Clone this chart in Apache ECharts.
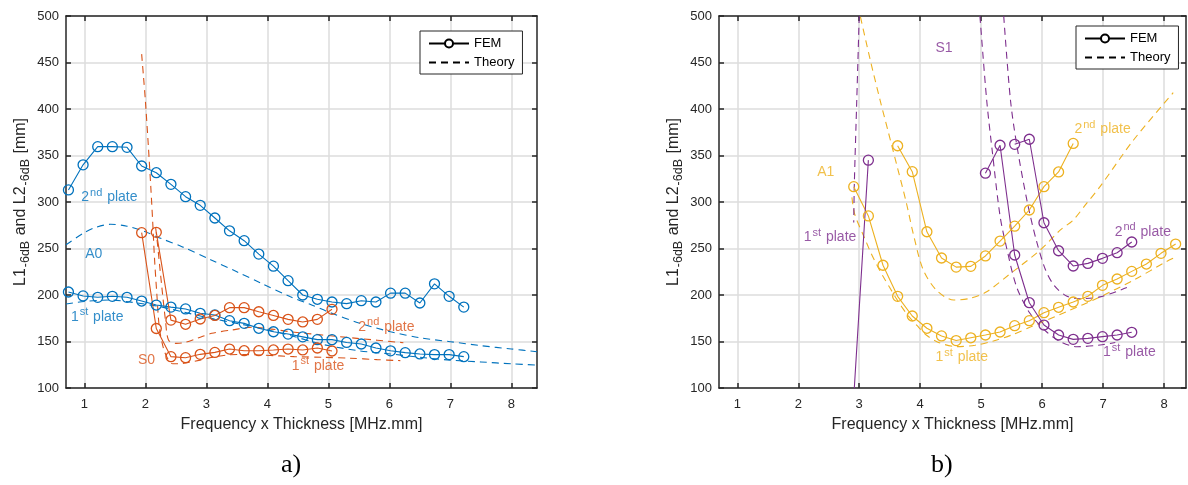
<!DOCTYPE html>
<html><head><meta charset="utf-8">
<script src="https://cdn.jsdelivr.net/npm/echarts@6/dist/echarts.min.js"></script>
<style>html,body{margin:0;padding:0;background:#fff}#c{width:1188px;height:485px}</style>
</head><body><div id="c"></div>
<script>
// ---------------- data ----------------
const xTicks = [1, 2, 3, 4, 5, 6, 7, 8];

// Panel a) A0 (blue) FEM
const a0FemX = [0.74,0.98,1.22,1.46,1.70,1.94,2.18,2.42,2.66,2.90,3.14,3.38,3.62,3.86,4.10,4.34,4.58,4.82,5.06,5.30,5.54,5.78,6.02,6.26,6.50,6.74,6.98,7.22];
const a0FemY2 = [313,340,359.5,359.5,358.8,338.7,331.5,319,305.7,296.4,282.8,269,258.4,244,231,215.4,200,195.4,192.5,190.7,193.9,192.5,202,202,191.4,212,198.6,187];
const a0FemY1 = [203.2,199,197.5,198.6,197.5,193.5,189.2,187,185,180.3,178.5,172.4,169.5,164.2,160.5,158,155,152,152,149,147.3,143,140,138,136.6,135.9,135.9,133.7];
// Panel a) S0 (orange) FEM
const s0FemX1 = [1.94,2.18,2.42,2.66,2.90,3.14,3.38,3.62,3.86,4.10,4.34,4.58,4.82,5.06];
const s0FemY1 = [267,164,133.7,132.6,136.2,138.3,141.9,140.1,140.1,140.9,141.9,140.9,143,139.8];
const s0FemX2 = [2.18,2.42,2.66,2.90,3.14,3.38,3.62,3.86,4.10,4.34,4.58,4.82,5.06];
const s0FemY2 = [267.4,173,168.5,174.2,178,186.4,186.4,182,178,173.8,171,173.8,184.6];
// Panel a) theory
const a0ThX2 = [0.7,1.0,1.2,1.43,1.7,2.0,2.25,2.6,3.07,3.5,3.89,4.38,4.7,5.03,5.5,6.02,6.5,7.0,7.5,8.0,8.42];
const a0ThY2 = [254,267,273,276,274,268,261,252,238,225,213,198,190,181,170,160.5,154,149.8,145.5,142,139];
const a0ThX1 = [0.7,1.0,1.43,1.8,2.25,2.6,3.07,3.5,3.89,4.4,4.9,5.5,6.02,6.5,7.0,7.5,8.0,8.42];
const a0ThY1 = [190.3,193,194.6,192,187.4,182,175,169.5,164.2,156,147,140,136.6,133,130,128,126,124.7];
const s0ThX1 = [1.94,1.97,2.0,2.05,2.09,2.12,2.15,2.19,2.23,2.3,2.38,2.45,2.55,2.7,2.9,3.1,3.34,3.6,3.89,4.2,4.44,4.92,5.36,5.8,6.18];
const s0ThY1 = [459,435,410,360,316,280,240,200,165,142,130,126,126,127.5,130,133,135.5,136,135.5,134.5,133.7,133,132,130.5,129.4];
const s0ThX2 = [2.17,2.19,2.27,2.33,2.38,2.5,2.63,2.85,3.09,3.42,3.75,4.0,4.38,4.9,5.47,6.23];
const s0ThY2 = [272,261,209,173,151.6,148,148.7,153.4,158.8,162.4,165.3,164,160.5,157,153.4,148.7];

// Panel b) A1 (yellow) FEM
const a1FemX1 = [2.91,3.15,3.39,3.63,3.87,4.11,4.35,4.59,4.83,5.07,5.31,5.55,5.79,6.03,6.27,6.51,6.75,6.99,7.23,7.47,7.71,7.95,8.19];
const a1FemY1 = [316.5,285,232,198.6,177.4,164.2,156,151,154,157,160.2,167,172.4,181,186.8,192.5,198.6,210.4,217.2,225.4,233.3,244.8,254.8];
const a1FemX2 = [3.63,3.87,4.11,4.35,4.59,4.83,5.07,5.31,5.55,5.79,6.03,6.27,6.51];
const a1FemY2 = [360.5,332.6,268,239.8,230,230.8,242,258,274,291.4,316.5,332.3,363];
// Panel b) S1 (purple) FEM
const s1FemX1 = [2.91,3.15,3.39,5.07,5.31,5.55,5.79,6.03,6.27,6.51,6.75,6.99,7.23,7.47];
const s1FemY1 = [90,345,null,331,361,243,191.7,167.7,157,152.3,153.4,155.2,157,159.9];
const s1FemX2 = [5.55,5.79,6.03,6.27,6.51,6.75,6.99,7.23,7.47];
const s1FemY2 = [362,367.5,277.7,247.6,231.2,234,239.4,245.5,257];
// Panel b) theory
const a1ThX1 = [2.88,2.93,3.07,3.2,3.3,3.4,3.5,3.6,3.7,3.8,3.95,4.1,4.3,4.6,4.9,5.2,5.5,5.86,6.4,6.95,7.5,8.04,8.2];
const a1ThY1 = [305,286,264,244,231,219,208,197,187,178,167,157,149,144.5,146,150.5,157,167,182,198,216,236,241];
const a1ThX2 = [3.02,3.18,3.34,3.48,3.62,3.77,3.9,4.05,4.27,4.55,4.82,5.09,5.48,5.97,6.3,6.51,6.73,6.95,7.5,8.15];
const a1ThY2 = [499,453,410,374.5,338.7,300,262,227,205,194.6,196.4,203.5,223,248.4,270,280.6,298.6,316.5,366.7,417.5];
const s1ThX1 = [3.0,2.96,2.92,2.91];
const s1ThY1 = [500,410,320,278];
const s1ThX2 = [4.98,5.09,5.18,5.31,5.42,5.58,5.8,6.07,6.3,6.57,6.95,7.2];
const s1ThY2 = [500,410,356,285,250,209,180.3,160.5,149.8,144.4,146.2,149];
const s1ThX3 = [5.37,5.48,5.58,5.75,5.9,6.05,6.2,6.4,6.6,6.95,7.39];
const s1ThY3 = [500,410,363,302,260,228,210,199,196,198,208];

// annotations [x, y, text]
const annBlueA = [[0.95,304.8,'2nd plate'],[1.016,243.8,'A0'],[0.78,176.7,'1st plate']];
const annOrangeA = [[1.88,130,'S0'],[5.49,165.9,'2nd plate'],[4.40,123.9,'1st plate']];
const annPurpleB = [[4.25,465.3,'S1'],[2.09,261.8,'1st plate'],[7.19,268,'2nd plate'],[7.0,138.2,'1st plate']];
const annYellowB = [[2.31,331.7,'A1'],[6.53,378.5,'2nd plate'],[4.25,132.8,'1st plate']];

// ---------------- chart ----------------
const C = {blue:'#0072BD', orange:'#D95319', yellow:'#EDB120', purple:'#7E2F8E'};
const FONT = "'Liberation Sans', Arial, Helvetica, sans-serif";
const INK = '#262626';
const pairs = (xs, ys) => xs.map((x, i) => [x, ys[i]]);

function femSeries(xs, ys, color, g) {
  return {type:'line', xAxisIndex:g*2, yAxisIndex:g*2, data:pairs(xs, ys), symbol:'circle',
    symbolSize:10, showAllSymbol:true, connectNulls:false, clip:true, silent:true, z:3,
    lineStyle:{color:color, width:1.1}, itemStyle:{color:'rgba(255,255,255,0)', borderColor:color, borderWidth:1.3}};
}
function thSeries(xs, ys, color, g) {
  return {type:'line', xAxisIndex:g*2, yAxisIndex:g*2, data:pairs(xs, ys), symbol:'none',
    smooth:0.3, clip:true, silent:true, z:2, lineStyle:{color:color, width:1.1, type:[7,5]}};
}
function toRich(t) {
  const m = t.match(/^(\d)(st|nd|rd|th) (.*)$/);
  return m ? '{n|' + m[1] + '}{p|' + m[2] + '}{n| ' + m[3] + '}' : '{n|' + t + '}';
}
function annSeries(list, color, g) {
  return {type:'scatter', xAxisIndex:g*2, yAxisIndex:g*2, symbolSize:0, silent:true, z:5,
    data:list.map(a => ({value:[a[0], a[1]], label:{formatter:toRich(a[2])}})),
    label:{show:true, position:'right', distance:0, color:color,
      rich:{n:{fontSize:14, color:color, fontFamily:FONT},
            p:{fontSize:11, color:color, fontFamily:FONT, padding:[0,1,9,1]}}}};
}
const yName = '{a|L1}{s|-6dB}{a| and L2}{s|-6dB}{a| [mm]}';
const yRich = {a:{fontSize:16, color:INK, fontFamily:FONT},
               s:{fontSize:12.5, color:INK, fontFamily:FONT, padding:[9,1,0,1]}};

function xAx(g, top) {
  return {type:'value', gridIndex:g, position:top ? 'top' : 'bottom', min:0.7, max:g ? 8.36 : 8.42,
    axisLine:{show:true, onZero:false, lineStyle:{color:INK, width:1.5}},
    axisTick:{show:true, inside:true, length:5, customValues:xTicks, lineStyle:{color:INK, width:1.5}},
    axisLabel:{show:!top, customValues:xTicks, margin:10, color:INK, fontSize:13, fontFamily:FONT},
    splitLine:{show:!top, lineStyle:{color:'#dcdcdc', width:1.5}},
    name:top ? '' : 'Frequency x Thickness [MHz.mm]', nameLocation:'middle', nameGap:29,
    nameTextStyle:{color:INK, fontSize:16, fontFamily:FONT}};
}
function yAx(g, right) {
  return {type:'value', gridIndex:g, position:right ? 'right' : 'left', min:100, max:500, interval:50,
    axisLine:{show:true, onZero:false, lineStyle:{color:INK, width:1.5}},
    axisTick:{show:true, inside:true, length:5, lineStyle:{color:INK, width:1.5}},
    axisLabel:{show:!right, margin:7, color:INK, fontSize:13, fontFamily:FONT},
    splitLine:{show:!right, lineStyle:{color:'#dcdcdc', width:1.5}},
    name:right ? '' : yName, nameLocation:'middle', nameRotate:90, nameGap:34,
    nameTextStyle:{rich:yRich}};
}

const option = {
  animation:false,
  backgroundColor:'#fff',
  grid:[{left:66, top:16, width:471, height:372}, {left:719, top:16, width:467, height:372}],
  xAxis:[xAx(0,false), xAx(0,true), xAx(1,false), xAx(1,true)],
  yAxis:[yAx(0,false), yAx(0,true), yAx(1,false), yAx(1,true)],
  legend:[0,1].map(g => ({data:[{name:'FEM'}, {name:'Theory', itemStyle:{opacity:0}}],
    orient:'vertical', left:g ? 1076 : 420, top:g ? 26 : 31,
    itemWidth:40, itemHeight:10, itemGap:6, padding:[6,8,5,8], borderColor:INK, borderWidth:1,
    backgroundColor:'#fff', selectedMode:false, textStyle:{color:'#000', fontSize:13, fontFamily:FONT}})),
  graphic:[
    {type:'text', left:281, top:452, style:{text:'a)', fontSize:26, fontFamily:"'Liberation Serif', serif", fill:'#000'}},
    {type:'text', left:931, top:452, style:{text:'b)', fontSize:26, fontFamily:"'Liberation Serif', serif", fill:'#000'}}
  ],
  series:[
    {name:'FEM', type:'line', data:[], symbol:'circle', symbolSize:9, lineStyle:{color:'#000', width:1.5}, itemStyle:{color:'#fff', borderColor:'#000', borderWidth:1.2}},
    {name:'Theory', type:'line', data:[], symbol:'none', lineStyle:{color:'#000', width:1, type:[7,5]}, itemStyle:{color:'#000'}},
    thSeries(a0ThX2, a0ThY2, C.blue, 0),
    thSeries(a0ThX1, a0ThY1, C.blue, 0),
    thSeries(s0ThX1, s0ThY1, C.orange, 0),
    thSeries(s0ThX2, s0ThY2, C.orange, 0),
    femSeries(a0FemX, a0FemY2, C.blue, 0),
    femSeries(a0FemX, a0FemY1, C.blue, 0),
    femSeries(s0FemX1, s0FemY1, C.orange, 0),
    femSeries(s0FemX2, s0FemY2, C.orange, 0),
    thSeries(a1ThX1, a1ThY1, C.yellow, 1),
    thSeries(a1ThX2, a1ThY2, C.yellow, 1),
    thSeries(s1ThX1, s1ThY1, C.purple, 1),
    thSeries(s1ThX2, s1ThY2, C.purple, 1),
    thSeries(s1ThX3, s1ThY3, C.purple, 1),
    femSeries(a1FemX1, a1FemY1, C.yellow, 1),
    femSeries(a1FemX2, a1FemY2, C.yellow, 1),
    femSeries(s1FemX1, s1FemY1, C.purple, 1),
    femSeries(s1FemX2, s1FemY2, C.purple, 1),
    annSeries(annBlueA, C.blue, 0),
    annSeries(annOrangeA, C.orange, 0),
    annSeries(annPurpleB, C.purple, 1),
    annSeries(annYellowB, C.yellow, 1)
  ]
};
const chart = echarts.init(document.getElementById('c'), null, {renderer:'canvas'});
chart.setOption(option);
</script>
</body></html>
